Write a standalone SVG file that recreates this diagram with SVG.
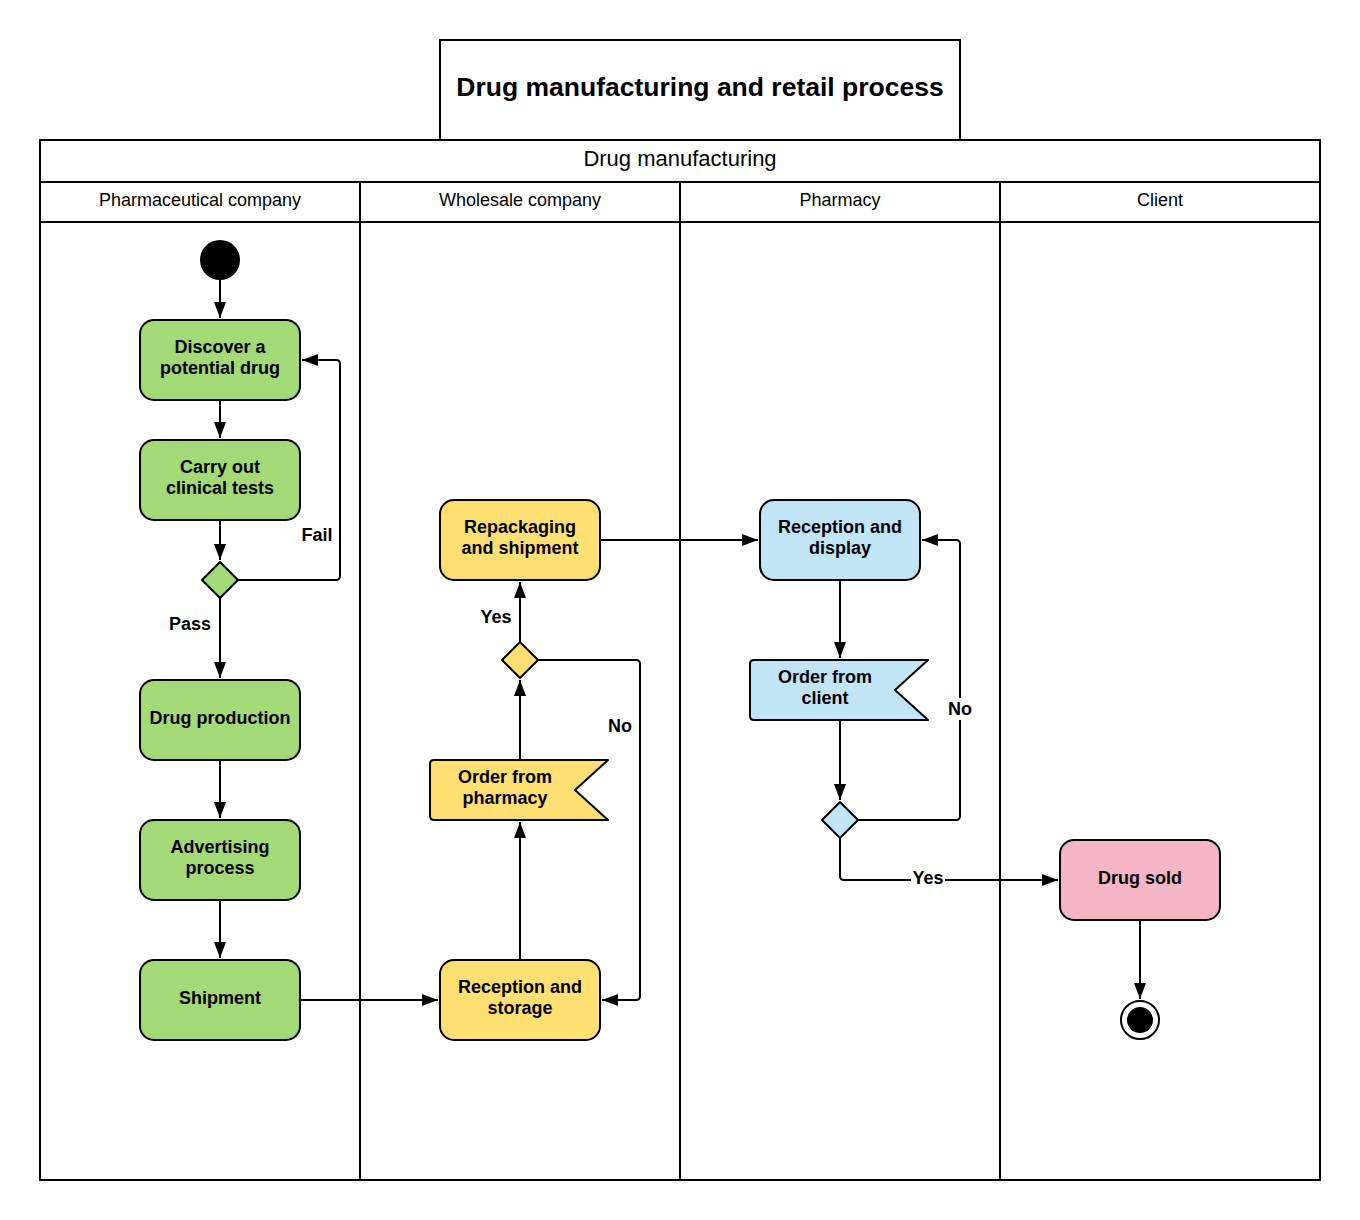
<svg xmlns="http://www.w3.org/2000/svg" width="1360" height="1220" viewBox="0 0 1360 1220">
<defs>
<marker id="arr" viewBox="0 0 16 12" refX="16" refY="6" markerWidth="16" markerHeight="12" markerUnits="userSpaceOnUse" orient="auto">
<path d="M0,0 L16,6 L0,12 Z" fill="#000"/>
</marker>
</defs>
<style>
.frame{fill:#fff;stroke:#000;stroke-width:2}
.ln{stroke:#000;stroke-width:2;fill:none}
.node{stroke:#000;stroke-width:2}
.g{fill:#a3d977}
.y{fill:#ffdf71}
.b{fill:#c1e4f7}
.p{fill:#f4b6c7}
.t{font-family:"Liberation Sans",Arial,sans-serif;font-size:18px;font-weight:bold;text-anchor:middle;fill:#000}
.h{font-family:"Liberation Sans",Arial,sans-serif;text-anchor:middle;fill:#000}
.c{stroke:#000;stroke-width:2;fill:none;stroke-linejoin:round}
.lbl{font-family:"Liberation Sans",Arial,sans-serif;font-size:18px;font-weight:bold;text-anchor:middle;fill:#000}
</style>
<rect width="1360" height="1220" fill="#fff"/>
<g id="title">
<rect class="frame" x="440" y="40" width="520" height="100"/>
<text class="h" x="700" y="96" font-size="26.5" font-weight="bold">Drug manufacturing and retail process</text>
</g>
<g id="pool">
<rect class="frame" x="40" y="140" width="1280" height="1040"/>
<line class="ln" x1="40" y1="182" x2="1320" y2="182"/>
<line class="ln" x1="40" y1="222" x2="1320" y2="222"/>
<line class="ln" x1="360" y1="182" x2="360" y2="1180"/>
<line class="ln" x1="680" y1="182" x2="680" y2="1180"/>
<line class="ln" x1="1000" y1="182" x2="1000" y2="1180"/>
<text class="h" x="680" y="166" font-size="22">Drug manufacturing</text>
<text class="h" x="200" y="206" font-size="18">Pharmaceutical company</text>
<text class="h" x="520" y="206" font-size="18">Wholesale company</text>
<text class="h" x="840" y="206" font-size="18">Pharmacy</text>
<text class="h" x="1160" y="206" font-size="18">Client</text>
</g>
<g id="start"><circle cx="220" cy="260" r="20" fill="#000"/></g>
<g id="discover"><rect class="node g" x="140" y="320" width="160" height="80" rx="14"/><text class="t" x="220" y="353">Discover a</text><text class="t" x="220" y="374">potential drug</text></g>
<g id="clinical"><rect class="node g" x="140" y="440" width="160" height="80" rx="14"/><text class="t" x="220" y="473">Carry out</text><text class="t" x="220" y="494">clinical tests</text></g>
<g id="dec1"><path class="node g" d="M220,562 L238,580 L220,598 L202,580 Z" stroke-linejoin="round"/></g>
<g id="production"><rect class="node g" x="140" y="680" width="160" height="80" rx="14"/><text class="t" x="220" y="724">Drug production</text></g>
<g id="advertising"><rect class="node g" x="140" y="820" width="160" height="80" rx="14"/><text class="t" x="220" y="853">Advertising</text><text class="t" x="220" y="874">process</text></g>
<g id="shipment"><rect class="node g" x="140" y="960" width="160" height="80" rx="14"/><text class="t" x="220" y="1004">Shipment</text></g>
<g id="repack"><rect class="node y" x="440" y="500" width="160" height="80" rx="14"/><text class="t" x="520" y="533">Repackaging</text><text class="t" x="520" y="554">and shipment</text></g>
<g id="dec2"><path class="node y" d="M520,642 L538,660 L520,678 L502,660 Z" stroke-linejoin="round"/></g>
<g id="orderpharm"><path class="node y" d="M434,760 L608,760 L575,790 L608,820 L434,820 Q430,820 430,816 L430,764 Q430,760 434,760 Z" stroke-linejoin="round"/><text class="t" x="505" y="783">Order from</text><text class="t" x="505" y="804">pharmacy</text></g>
<g id="storage"><rect class="node y" x="440" y="960" width="160" height="80" rx="14"/><text class="t" x="520" y="993">Reception and</text><text class="t" x="520" y="1014">storage</text></g>
<g id="display"><rect class="node b" x="760" y="500" width="160" height="80" rx="14"/><text class="t" x="840" y="533">Reception and</text><text class="t" x="840" y="554">display</text></g>
<g id="orderclient"><path class="node b" d="M754,660 L928,660 L895,690 L928,720 L754,720 Q750,720 750,716 L750,664 Q750,660 754,660 Z" stroke-linejoin="round"/><text class="t" x="825" y="683">Order from</text><text class="t" x="825" y="704">client</text></g>
<g id="dec3"><path class="node b" d="M840,802 L858,820 L840,838 L822,820 Z" stroke-linejoin="round"/></g>
<g id="sold"><rect class="node p" x="1060" y="840" width="160" height="80" rx="14"/><text class="t" x="1140" y="884">Drug sold</text></g>
<g id="end"><circle cx="1140" cy="1020" r="19" fill="#fff" stroke="#000" stroke-width="2"/><circle cx="1140" cy="1020" r="13" fill="#000"/></g>
<g id="connectors">
<path class="c" d="M220,280 L220,318" marker-end="url(#arr)"/>
<path class="c" d="M220,400 L220,438" marker-end="url(#arr)"/>
<path class="c" d="M220,520 L220,560" marker-end="url(#arr)"/>
<path class="c" d="M238,580 L336,580 Q340,580 340,576 L340,364 Q340,360 336,360 L302,360" marker-end="url(#arr)"/>
<path class="c" d="M220,598 L220,678" marker-end="url(#arr)"/>
<path class="c" d="M220,760 L220,818" marker-end="url(#arr)"/>
<path class="c" d="M220,900 L220,958" marker-end="url(#arr)"/>
<path class="c" d="M300,1000 L438,1000" marker-end="url(#arr)"/>
<path class="c" d="M520,960 L520,822" marker-end="url(#arr)"/>
<path class="c" d="M520,760 L520,680" marker-end="url(#arr)"/>
<path class="c" d="M520,642 L520,582" marker-end="url(#arr)"/>
<path class="c" d="M538,660 L636,660 Q640,660 640,664 L640,996 Q640,1000 636,1000 L602,1000" marker-end="url(#arr)"/>
<path class="c" d="M600,540 L758,540" marker-end="url(#arr)"/>
<path class="c" d="M840,580 L840,658" marker-end="url(#arr)"/>
<path class="c" d="M840,720 L840,800" marker-end="url(#arr)"/>
<path class="c" d="M858,820 L956,820 Q960,820 960,816 L960,544 Q960,540 956,540 L922,540" marker-end="url(#arr)"/>
<path class="c" d="M840,838 L840,876 Q840,880 844,880 L1058,880" marker-end="url(#arr)"/>
<path class="c" d="M1140,920 L1140,999" marker-end="url(#arr)"/>
<text class="lbl" x="317" y="541">Fail</text>
<text class="lbl" x="190" y="630">Pass</text>
<text class="lbl" x="496" y="623">Yes</text>
<text class="lbl" x="620" y="732">No</text>
<rect x="945" y="698" width="30" height="22" fill="#fff"/>
<text class="lbl" x="960" y="715">No</text>
<rect x="911" y="869" width="34" height="20" fill="#fff"/>
<text class="lbl" x="928" y="884">Yes</text>
</g>
</svg>
